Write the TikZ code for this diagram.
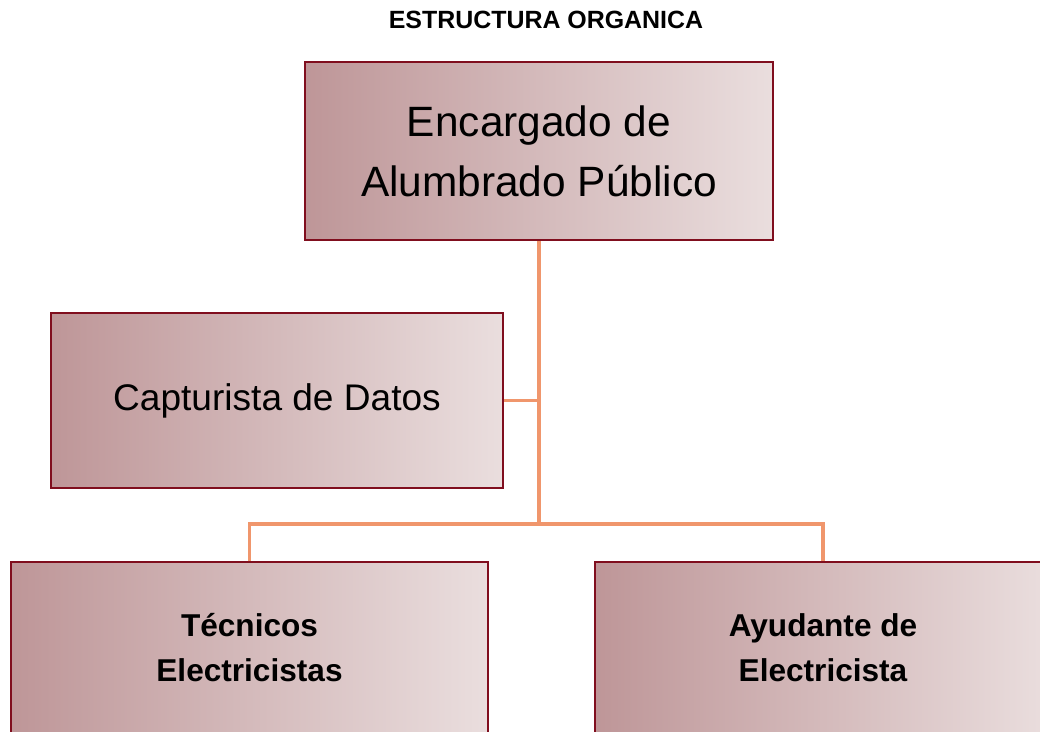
\documentclass[tikz,border=0pt]{standalone}
\usepackage{fontspec}
\setmainfont{Liberation Sans}
\usepackage{tikz}

\definecolor{boxL}{RGB}{190,150,152}
\definecolor{boxR}{RGB}{234,222,222}
\definecolor{boxline}{RGB}{128,14,30}
\definecolor{conn}{RGB}{240,150,108}

\tikzset{
	orgbox/.style={draw=boxline, line width=1.8pt, left color=boxL, right color=boxR,
		align=center, inner sep=0pt},
	orgline/.style={draw=conn, line width=2.4pt},
	lowtext/.style={font=\bfseries\fontsize{23.7}{33.75}\selectfont, align=center, yshift=4.5pt}
}

\begin{document}
\begin{tikzpicture}[x=0.75pt,y=-0.75pt]
	\useasboundingbox (0,0) rectangle (1040,732);
	\node[font=\bfseries\fontsize{18.7}{22}\selectfont] (title) at (546,20) {ESTRUCTURA ORGANICA};
	\node[orgbox, minimum width=351pt, minimum height=133.5pt,
		font=\fontsize{31.8}{45}\selectfont] (enc) at (539,151) {Encargado de\\Alumbrado Público};
	\node[orgbox, minimum width=339pt, minimum height=131.25pt,
		font=\fontsize{27.8}{33}\selectfont] (cap) at (277,400.5) {Capturista de Datos};
	% bottom boxes run off the page
	\node[orgbox, anchor=north, minimum width=357.75pt, minimum height=136.5pt,
		label={[lowtext]center:Técnicos\\Electricistas}] (tec) at (249.5,561) {};
	\node[orgbox, anchor=north, minimum width=342pt, minimum height=136.5pt,
		label={[lowtext]center:Ayudante de\\Electricista}] (ayu) at (823,561) {};
	\coordinate (split) at (539,524);
	\draw[orgline] (enc.south) -- (split);
	\draw[orgline] (cap.east) -- (cap.east -| enc.south);
	\draw[orgline] (tec.north) |- (split) -| (ayu.north);
\end{tikzpicture}
\end{document}
